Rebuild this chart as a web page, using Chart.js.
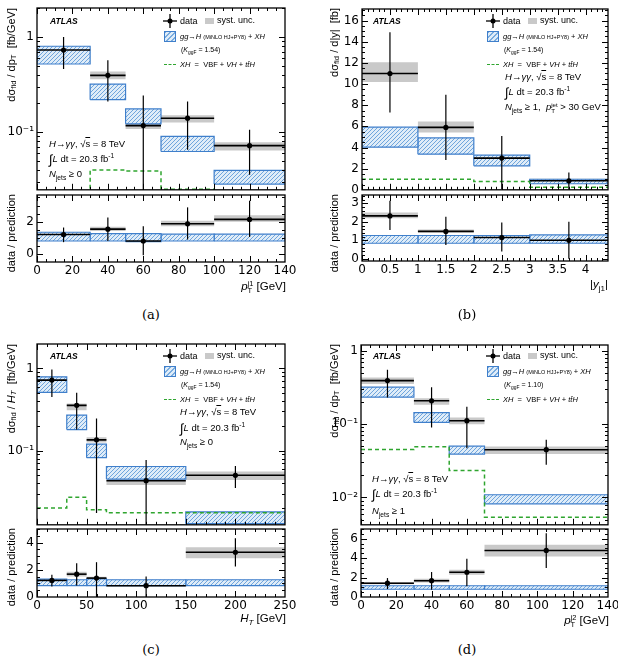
<!DOCTYPE html>
<html>
<head>
<meta charset="utf-8">
<script src="https://cdn.jsdelivr.net/npm/chart.js@4.4.1/dist/chart.umd.min.js"></script>
<style>
  html, body { margin: 0; background: #fff; overflow: hidden; }
  #fig { position: relative; width: 618px; height: 668px; overflow: hidden; font-family: "Liberation Sans", Arial, sans-serif; color: #000; }
  #fig canvas { position: absolute; }
  .t { position: absolute; white-space: nowrap; line-height: 1; }
  .yt { position: absolute; writing-mode: vertical-rl; transform: rotate(180deg); white-space: nowrap; font-size: 11px; line-height: 13px; }
  .xt { position: absolute; white-space: nowrap; font-size: 11.5px; line-height: 1; transform: translateX(-100%); }
  .cap { position: absolute; font-family: "DejaVu Serif", "Liberation Serif", serif; font-size: 13px; line-height: 1; transform: translateX(-50%); }
  sub, sup { font-size: 70%; line-height: 0; }
  .ss { display: inline-block; font-size: 65%; line-height: 0.95; vertical-align: -0.45em; text-align: left; }
  .atlas { font-weight: bold; font-style: italic; font-size: 8.5px; }
  .hatch { position: absolute; box-sizing: border-box; border: 1px solid #3f7fcb; background: repeating-linear-gradient(135deg, #79acdf 0 1px, #dfecf8 1px 3.5px); }
  .gbox { position: absolute; background: #c9c9c9; }
  .gdash { position: absolute; border-top: 1.5px dashed #2fa52f; }
  .s9 { font-size: 9px; }
  .s95 { font-size: 9.5px; }
  .gen { font-size: 7.5px; }
  .gen small { font-size: 5.5px; }
  .k { font-size: 7px; }
</style>
</head>
<body>
<div id="fig">
  <canvas id="a1"></canvas><canvas id="a2"></canvas>
  <canvas id="b1"></canvas><canvas id="b2"></canvas>
  <canvas id="c1"></canvas><canvas id="c2"></canvas>
  <canvas id="d1"></canvas><canvas id="d2"></canvas>

  <!-- axis titles -->
  <div class="yt" style="left:5px;top:8px">dσ<sub>fid</sub> / dp<sub>T</sub> &nbsp;[fb/GeV]</div>
  <div class="yt" style="left:5px;top:194px">data / prediction</div>
  <div class="yt" style="left:328px;top:8px">dσ<sub>fid</sub> / d|y| &nbsp;[fb]</div>
  <div class="yt" style="left:328px;top:194px">data / prediction</div>
  <div class="yt" style="left:5px;top:344px">dσ<sub>fid</sub> / <i>H</i><sub><i>T</i></sub> &nbsp;[fb/GeV]</div>
  <div class="yt" style="left:5px;top:528px">data / prediction</div>
  <div class="yt" style="left:328px;top:344px">dσ<sub>fid</sub> / dp<sub>T</sub> &nbsp;[fb/GeV]</div>
  <div class="yt" style="left:328px;top:528px">data / prediction</div>

  <div class="xt" style="left:286px;top:280px"><i>p</i><span class="ss">j1<br>T</span> [GeV]</div>
  <div class="xt" style="left:608px;top:279px">|<i>y</i><sub>j1</sub>|</div>
  <div class="xt" style="left:286px;top:613px"><i>H</i><sub><i>T</i></sub> [GeV]</div>
  <div class="xt" style="left:609px;top:614px"><i>p</i><span class="ss">j2<br>T</span> [GeV]</div>

  <div class="cap" style="left:151px;top:308px">(a)</div>
  <div class="cap" style="left:467px;top:308px">(b)</div>
  <div class="cap" style="left:151px;top:643px">(c)</div>
  <div class="cap" style="left:467px;top:643px">(d)</div>

  <!-- labels -->
  <div class="t atlas" style="left:50px;top:17px">ATLAS</div>
  <div class="t atlas" style="left:373px;top:17px">ATLAS</div>
  <div class="t atlas" style="left:50px;top:352px">ATLAS</div>
  <div class="t atlas" style="left:373px;top:352px">ATLAS</div>

  <div class="t s95" style="left:49px;top:139px"><i>H</i>→<i>γγ</i>, √<span style="text-decoration:overline">s</span> = 8 TeV</div>
  <div class="t s95" style="left:49px;top:153px"><span style="font-size:13px;vertical-align:-2px">∫</span><i>L</i> dt = 20.3 fb<sup>-1</sup></div>
  <div class="t s95" style="left:49px;top:169px"><i>N</i><sub>jets</sub> ≥ 0</div>

  <div class="t s95" style="left:505px;top:72px"><i>H</i>→<i>γγ</i>, √<span style="text-decoration:overline">s</span> = 8 TeV</div>
  <div class="t s95" style="left:505px;top:86px"><span style="font-size:13px;vertical-align:-2px">∫</span><i>L</i> dt = 20.3 fb<sup>-1</sup></div>
  <div class="t s95" style="left:505px;top:102px"><i>N</i><sub>jets</sub> ≥ 1, &nbsp;<i>p</i><span class="ss">jet<br>T</span> &gt; 30 GeV</div>

  <div class="t s95" style="left:180px;top:407px"><i>H</i>→<i>γγ</i>, √<span style="text-decoration:overline">s</span> = 8 TeV</div>
  <div class="t s95" style="left:180px;top:422px"><span style="font-size:13px;vertical-align:-2px">∫</span><i>L</i> dt = 20.3 fb<sup>-1</sup></div>
  <div class="t s95" style="left:180px;top:437px"><i>N</i><sub>jets</sub> ≥ 0</div>

  <div class="t s95" style="left:372px;top:474px"><i>H</i>→<i>γγ</i>, √<span style="text-decoration:overline">s</span> = 8 TeV</div>
  <div class="t s95" style="left:372px;top:488px"><span style="font-size:13px;vertical-align:-2px">∫</span><i>L</i> dt = 20.3 fb<sup>-1</sup></div>
  <div class="t s95" style="left:372px;top:506px"><i>N</i><sub>jets</sub> ≥ 1</div>
</div>

<script>
// (a) leading-jet pT, Njets >= 0
const ptj1Edges = [0, 30, 50, 70, 100, 140];
const ptj1Data = [0.73, 0.395, 0.117, 0.140, 0.072];
const ptj1StatLo = [0.46, 0.21, 0.02, 0.065, 0.0356];
const ptj1StatHi = [1.0, 0.57, 0.243, 0.21, 0.106];
const ptj1SystLo = [0.68, 0.36, 0.108, 0.126, 0.064];
const ptj1SystHi = [0.80, 0.435, 0.125, 0.15, 0.078];
const ptj1PredLo = [0.52, 0.219, 0.122, 0.0625, 0.0284];
const ptj1PredHi = [0.80, 0.32, 0.175, 0.090, 0.0395];
const ptj1XH = [0.02, 0.040, 0.039, 0.025, 0.02];
const ptj1Ratio = [1.22, 1.55, 0.82, 1.88, 2.15];
const ptj1RatioStatLo = [0.75, 0.82, -0.05, 0.91, 1.07];
const ptj1RatioStatHi = [1.65, 2.27, 1.73, 2.89, 3.3];
const ptj1RatioSystLo = [1.17, 1.44, 0.78, 1.73, 2.0];
const ptj1RatioSystHi = [1.28, 1.69, 0.86, 2.06, 2.41];
const ptj1RatioPredLo = [0.82, 0.82, 0.78, 0.82, 0.82];
const ptj1RatioPredHi = [1.36, 1.28, 1.28, 1.24, 1.24];

// (b) leading-jet rapidity, Njets >= 1
const yj1Edges = [0, 1, 2, 3, 4.4];
const yj1Data = [11.0, 5.9, 3.0, 0.85];
const yj1StatLo = [7.3, 2.83, 0.06, 0.0];
const yj1StatHi = [14.9, 9.0, 5.1, 1.64];
const yj1SystLo = [10.2, 5.42, 2.83, 0.63];
const yj1SystHi = [12.06, 6.46, 3.2, 1.04];
const yj1PredLo = [4.03, 3.37, 2.27, 0.57];
const yj1PredHi = [5.92, 4.91, 3.28, 1.0];
const yj1XH = [1.0, 1.0, 0.79, 0.25];
const yj1Ratio = [2.32, 1.48, 1.15, 1.0];
const yj1RatioStatLo = [1.56, 0.75, 0.4, 0.0];
const yj1RatioStatHi = [3.14, 2.28, 1.96, 2.0];
const yj1RatioSystLo = [2.19, 1.42, 1.08, 0.88];
const yj1RatioSystHi = [2.5, 1.58, 1.22, 1.15];
const yj1RatioPredLo = [0.84, 0.84, 0.84, 0.84];
const yj1RatioPredHi = [1.26, 1.26, 1.26, 1.29];

// (c) HT, Njets >= 0
const htEdges = [0, 30, 50, 70, 150, 250];
const htData = [0.72, 0.355, 0.135, 0.043, 0.050];
const htStatLo = [0.45, 0.18, 0.0174, 0.01, 0.035];
const htStatHi = [0.97, 0.506, 0.245, 0.077, 0.065];
const htSystLo = [0.66, 0.31, 0.125, 0.038, 0.044];
const htSystHi = [0.79, 0.375, 0.145, 0.048, 0.0555];
const htPredLo = [0.51, 0.18, 0.082, 0.045, 0.0129];
const htPredHi = [0.79, 0.27, 0.12, 0.064, 0.018];
const htXH = [0.02, 0.027, 0.019, 0.0175, 0.0175];
const htRatio = [1.22, 1.68, 1.39, 0.83, 3.29];
const htRatioStatLo = [0.78, 0.85, 0, 0, 2.24];
const htRatioStatHi = [1.63, 2.49, 2.56, 1.51, 4.32];
const htRatioSystLo = [1.15, 1.51, 1.29, 0.79, 2.85];
const htRatioSystHi = [1.3, 1.85, 1.49, 0.87, 3.66];
const htRatioPredLo = [0.83, 0.83, 0.83, 0.83, 0.83];
const htRatioPredHi = [1.32, 1.27, 1.34, 1.27, 1.27];

// (d) subleading-jet pT, Njets >= 1
const ptj2Edges = [0, 30, 50, 70, 140];
const ptj2Data = [0.39, 0.207, 0.111, 0.0447];
const ptj2StatLo = [0.23, 0.09, 0.0467, 0.0278];
const ptj2StatHi = [0.546, 0.317, 0.172, 0.061];
const ptj2SystLo = [0.35, 0.183, 0.099, 0.039];
const ptj2SystHi = [0.43, 0.225, 0.123, 0.0495];
const ptj2PredLo = [0.232, 0.105, 0.039, 0.0082];
const ptj2PredHi = [0.317, 0.143, 0.05, 0.0109];
const ptj2XH = [0.045, 0.049, 0.0233, 0.0054];
const ptj2Ratio = [1.42, 1.68, 2.55, 4.79];
const ptj2RatioStatLo = [0.82, 0.75, 1.1, 2.98];
const ptj2RatioStatHi = [1.95, 2.57, 3.94, 6.57];
const ptj2RatioSystLo = [1.3, 1.5, 2.29, 4.18];
const ptj2RatioSystHi = [1.55, 1.88, 2.8, 5.37];
const ptj2RatioPredLo = [0.8, 0.8, 0.8, 0.8];
const ptj2RatioPredHi = [1.16, 1.16, 1.16, 1.16];

// tick labels
const ptTicks = [0, 20, 40, 60, 80, 100, 120, 140];
const yj1Ticks = [0, 0.5, 1, 1.5, 2, 2.5, 3, 3.5, 4];
const htTicks = [0, 50, 100, 150, 200, 250];
const yj1MainTicks = [0, 2, 4, 6, 8, 10, 12, 14, 16];

const BLUE = '#3f7fcb';
const GREY = '#c9c9c9';
const GREEN = '#2fa52f';

function makeHatch() {
  const c = document.createElement('canvas');
  c.width = 4; c.height = 4;
  const g = c.getContext('2d');
  g.fillStyle = '#dfecf8';
  g.fillRect(0, 0, 4, 4);
  g.strokeStyle = '#6fa5dc';
  g.lineWidth = 1;
  g.beginPath();
  g.moveTo(-1, 5); g.lineTo(5, -1);
  g.moveTo(3, 5); g.lineTo(5, 3);
  g.moveTo(-1, 1); g.lineTo(1, -1);
  g.stroke();
  return g.createPattern(c, 'repeat');
}
const hatch = makeHatch();

function box(x0, x1, lo, hi, bg, border, order) {
  return {
    data: [{x: x0, y: lo}, {x: x1, y: lo}, {x: x1, y: hi}, {x: x0, y: hi}, {x: x0, y: lo}],
    showLine: true, fill: 'shape', backgroundColor: bg,
    borderColor: border || 'rgba(0,0,0,0)', borderWidth: border ? 1.2 : 0,
    pointRadius: 0, tension: 0, order: order
  };
}

function seg(pts, color, w, order) {
  return {data: pts, showLine: true, fill: false, borderColor: color, borderWidth: w,
          pointRadius: 0, tension: 0, order: order};
}

function measurement(edges, val, statLo, statHi, systLo, systHi, predLo, predHi, xh) {
  const ds = [];
  const pts = [];
  for (let i = 0; i < val.length; i++) {
    const a = edges[i], b = edges[i + 1], c = (a + b) / 2;
    ds.push(box(a, b, systLo[i], systHi[i], GREY, null, 5));
    ds.push(box(a, b, predLo[i], predHi[i], hatch, BLUE, 4));
    ds.push(seg([{x: a, y: val[i]}, {x: b, y: val[i]}], '#000', 1.6, 2));
    ds.push(seg([{x: c, y: statLo[i]}, {x: c, y: statHi[i]}], '#000', 1.2, 1));
    pts.push({x: c, y: val[i]});
  }
  ds.push({data: pts, showLine: false, pointRadius: 2.6, pointBackgroundColor: '#000',
           pointBorderWidth: 0, order: 0});
  if (xh) {
    // one point per bin edge; 'before' keeps each bin's value until the next edge
    const steps = xh.map((v, i) => ({x: edges[i], y: v}));
    steps.push({x: edges[edges.length - 1], y: xh[xh.length - 1]});
    ds.push({data: steps, showLine: true, stepped: 'before', borderColor: GREEN, borderWidth: 1.5,
             borderDash: [4, 3], pointRadius: 0, fill: false, order: 3});
  }
  return ds;
}

function range(a, b, step) {
  const r = [];
  for (let v = a; v <= b + 1e-9; v += step) r.push(+v.toFixed(6));
  return r;
}
function logMinor(lo, hi) {
  const r = [];
  for (let e = Math.floor(Math.log10(lo)); e <= Math.ceil(Math.log10(hi)); e++)
    for (let m = 1; m < 10; m++) {
      const v = m * Math.pow(10, e);
      if (v >= lo && v <= hi) r.push(v);
    }
  return r;
}

// frame on all four sides with inward major/minor ticks (ROOT style)
function frame(o) {
  return {
    id: 'frame',
    afterDatasetsDraw(chart) {
      const {ctx, chartArea: a} = chart;
      const sx = chart.scales.x, sy = chart.scales.y;
      ctx.save();
      ctx.strokeStyle = '#000';
      ctx.lineWidth = 1;
      ctx.beginPath();
      const xt = (vals, len) => vals.forEach(v => {
        const p = Math.round(sx.getPixelForValue(v)) + 0.5;
        if (p < a.left || p > a.right) return;
        ctx.moveTo(p, a.bottom); ctx.lineTo(p, a.bottom - len);
        ctx.moveTo(p, a.top); ctx.lineTo(p, a.top + len);
      });
      const yt = (vals, len) => vals.forEach(v => {
        const p = Math.round(sy.getPixelForValue(v)) + 0.5;
        if (p < a.top || p > a.bottom) return;
        ctx.moveTo(a.left, p); ctx.lineTo(a.left + len, p);
        ctx.moveTo(a.right, p); ctx.lineTo(a.right - len, p);
      });
      xt(o.xMajor, 6); xt(o.xMinor, 3);
      yt(o.yMajor, 6); yt(o.yMinor, 3);
      ctx.stroke();
      ctx.lineWidth = 1.3;
      ctx.strokeRect(a.left, a.top, a.right - a.left, a.bottom - a.top);
      ctx.restore();
    }
  };
}

const SUP = {'-': '⁻', '1': '¹', '2': '²', '3': '³'};
function logLabel(v) {
  if (v >= 1) return String(v);
  return '10' + String(Math.round(Math.log10(v))).split('').map(ch => SUP[ch]).join('');
}

function plot(id, area, o) {
  const yW = 32, padT = 14, padR = 20;
  const xH = o.xLabels ? 17 : 0, padB = o.xLabels ? 3 : 10;
  const cv = document.getElementById(id);
  cv.width = area[2] + yW + padR;
  cv.height = area[3] + padT + xH + padB;
  cv.style.left = (area[0] - yW) + 'px';
  cv.style.top = (area[1] - padT) + 'px';
  const font = {family: '"DejaVu Sans", "Liberation Sans", sans-serif', size: 12};
  return new Chart(cv, {
    type: 'scatter',
    data: {datasets: o.datasets},
    options: {
      responsive: false, animation: false, events: [],
      layout: {padding: {left: 0, top: padT, right: padR, bottom: padB}},
      plugins: {legend: {display: false}, tooltip: {enabled: false}},
      scales: {
        x: {
          type: 'linear', min: o.xRange[0], max: o.xRange[1], bounds: 'data',
          display: !!o.xLabels,
          grid: {display: false, drawTicks: false}, border: {display: false},
          ticks: {font, color: '#000', padding: 2, maxRotation: 0, autoSkip: false,
                  callback: v => String(v)},
          afterBuildTicks: s => { if (o.xLabels) s.ticks = o.xLabels.map(v => ({value: v})); },
          afterFit: s => { s.height = xH; }
        },
        y: {
          type: o.log ? 'logarithmic' : 'linear', min: o.yRange[0], max: o.yRange[1], bounds: 'data',
          grid: {display: false, drawTicks: false}, border: {display: false},
          ticks: {font, color: '#000', padding: 3, autoSkip: false,
                  callback: v => o.log ? logLabel(v) : String(v)},
          afterBuildTicks: s => { s.ticks = o.yLabels.map(v => ({value: v})); },
          afterFit: s => { s.width = yW; }
        }
      }
    },
    plugins: [frame({xMajor: o.xMajor, xMinor: o.xMinor, yMajor: o.yLabels, yMinor: o.yMinor})]
  });
}

// (a)
plot('a1', [37, 8, 248, 182], {
  datasets: measurement(ptj1Edges, ptj1Data, ptj1StatLo, ptj1StatHi, ptj1SystLo, ptj1SystHi, ptj1PredLo, ptj1PredHi, ptj1XH),
  xRange: [0, 140], xMajor: ptTicks, xMinor: range(0, 140, 5),
  log: true, yRange: [0.0247, 2.02], yLabels: [0.1, 1], yMinor: logMinor(0.0247, 2.02)
});
plot('a2', [37, 195, 248, 67], {
  datasets: measurement(ptj1Edges, ptj1Ratio, ptj1RatioStatLo, ptj1RatioStatHi, ptj1RatioSystLo, ptj1RatioSystHi, ptj1RatioPredLo, ptj1RatioPredHi, null),
  xRange: [0, 140], xLabels: ptTicks, xMajor: ptTicks, xMinor: range(0, 140, 5),
  yRange: [-0.47, 3.65], yLabels: [0, 2], yMinor: range(0, 3.5, 0.5)
});

// (b)
plot('b1', [362, 9, 246, 181], {
  datasets: measurement(yj1Edges, yj1Data, yj1StatLo, yj1StatHi, yj1SystLo, yj1SystHi, yj1PredLo, yj1PredHi, yj1XH),
  xRange: [0, 4.4], xMajor: yj1Ticks, xMinor: range(0, 4.4, 0.1),
  yRange: [0, 17.1], yLabels: yj1MainTicks, yMinor: range(0, 17, 0.5)
});
plot('b2', [362, 195, 246, 66], {
  datasets: measurement(yj1Edges, yj1Ratio, yj1RatioStatLo, yj1RatioStatHi, yj1RatioSystLo, yj1RatioSystHi, yj1RatioPredLo, yj1RatioPredHi, null),
  xRange: [0, 4.4], xLabels: yj1Ticks, xMajor: yj1Ticks, xMinor: range(0, 4.4, 0.1),
  yRange: [-0.12, 3.45], yLabels: [0, 1, 2, 3], yMinor: range(0, 3.4, 0.2)
});

// (c)
plot('c1', [37, 344, 248, 181], {
  datasets: measurement(htEdges, htData, htStatLo, htStatHi, htSystLo, htSystHi, htPredLo, htPredHi, htXH),
  xRange: [0, 250], xMajor: htTicks, xMinor: range(0, 250, 10),
  log: true, yRange: [0.0125, 1.98], yLabels: [0.1, 1], yMinor: logMinor(0.0125, 1.98)
});
plot('c2', [37, 529, 248, 68], {
  datasets: measurement(htEdges, htRatio, htRatioStatLo, htRatioStatHi, htRatioSystLo, htRatioSystHi, htRatioPredLo, htRatioPredHi, null),
  xRange: [0, 250], xLabels: htTicks, xMajor: htTicks, xMinor: range(0, 250, 10),
  yRange: [0, 5], yLabels: [0, 2, 4], yMinor: range(0, 5, 0.5)
});

// (d)
plot('d1', [361, 345, 247, 180], {
  datasets: measurement(ptj2Edges, ptj2Data, ptj2StatLo, ptj2StatHi, ptj2SystLo, ptj2SystHi, ptj2PredLo, ptj2PredHi, ptj2XH),
  xRange: [0, 140], xMajor: ptTicks, xMinor: range(0, 140, 5),
  log: true, yRange: [0.00425, 1.19], yLabels: [0.01, 0.1, 1], yMinor: logMinor(0.00425, 1.19)
});
plot('d2', [361, 529, 247, 68], {
  datasets: measurement(ptj2Edges, ptj2Ratio, ptj2RatioStatLo, ptj2RatioStatHi, ptj2RatioSystLo, ptj2RatioSystHi, ptj2RatioPredLo, ptj2RatioPredHi, null),
  xRange: [0, 140], xLabels: ptTicks, xMajor: ptTicks, xMinor: range(0, 140, 5),
  yRange: [0, 7], yLabels: [0, 2, 4, 6], yMinor: range(0, 7, 0.5)
});

// legends (same layout in every panel, shifted)
const fig = document.getElementById('fig');
function legend(dx, dy, gen, kff) {
  const html = `
    <svg style="position:absolute;left:${163 + dx}px;top:${14 + dy}px" width="14" height="14">
      <line x1="7" y1="0" x2="7" y2="14" stroke="#000" stroke-width="1.3"/>
      <line x1="0" y1="7" x2="14" y2="7" stroke="#000" stroke-width="1.3"/>
      <circle cx="7" cy="7" r="2.5" fill="#000"/>
    </svg>
    <div class="t s9" style="left:${180 + dx}px;top:${16.5 + dy}px">data</div>
    <div class="gbox" style="left:${205 + dx}px;top:${17.5 + dy}px;width:9px;height:6px"></div>
    <div class="t s9" style="left:${217 + dx}px;top:${15.5 + dy}px">syst. unc.</div>
    <div class="hatch" style="left:${164 + dx}px;top:${31 + dy}px;width:12px;height:11px"></div>
    <div class="t gen" style="left:${180 + dx}px;top:${33 + dy}px"><i>gg</i>→<i>H</i> <small>(MiNLO ${gen}+PY8)</small> + <i>XH</i></div>
    <div class="t k" style="left:${181 + dx}px;top:${45.5 + dy}px">(<i>K</i><sub>ggF</sub> = ${kff})</div>
    <div class="gdash" style="left:${164 + dx}px;top:${63.5 + dy}px;width:12px"></div>
    <div class="t gen" style="left:${180 + dx}px;top:${60.5 + dy}px"><i>XH</i> &nbsp;= &nbsp;VBF + <i>VH</i> + <i>tt̄H</i></div>`;
  fig.insertAdjacentHTML('beforeend', html);
}
legend(0, 0, 'HJ', '1.54');
legend(323, 0, 'HJ', '1.54');
legend(0, 335, 'HJ', '1.54');
legend(323, 335, 'HJJ', '1.10');
</script>
</body>
</html>
